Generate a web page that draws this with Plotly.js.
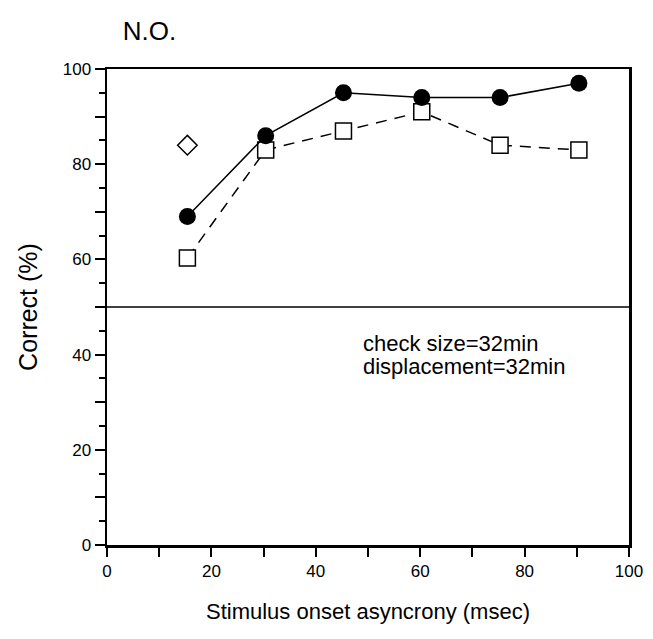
<!DOCTYPE html>
<html><head><meta charset="utf-8">
<script src="https://cdn.plot.ly/plotly-3.0.1.min.js"></script>
<style>body{margin:0;background:#fff}#c{width:653px;height:639px}</style>
</head><body><div id="c"></div>
<script>
const soa = [15.4, 30.4, 45.3, 60.3, 75.3, 90.4];
const filledCircle = [69, 86, 95, 94, 94, 97];
const openSquare = [60.3, 83, 87, 91, 84, 83];
const diamondX = [15.4];
const diamondY = [84];
const xTickVals = [0, 10, 20, 30, 40, 50, 60, 70, 80, 90, 100];
const xTickText = ['0', '', '20', '', '40', '', '60', '', '80', '', '100'];
const yTickVals = [0, 10, 20, 30, 40, 50, 60, 70, 80, 90, 100];
const yTickText = ['0', '', '20', '', '40', '', '60', '', '80', '', '100'];
const chance = 50;
const noteLines = ['check size=32min', 'displacement=32min'];
const noteY = [42.4, 37.4];

const font = 'Liberation Sans, Arial, Helvetica, sans-serif';

const traces = [
  {x: soa, y: openSquare, mode: 'lines', type: 'scatter',
   line: {color: '#000', width: 1.5, dash: '11px,8px'}},
  {x: soa, y: openSquare, mode: 'markers', type: 'scatter',
   marker: {symbol: 'square', size: 16, color: '#fff', line: {width: 1.5, color: '#000'}}},
  {x: soa, y: filledCircle, mode: 'lines+markers', type: 'scatter',
   line: {color: '#000', width: 1.5},
   marker: {symbol: 'circle', size: 17, color: '#000'}},
  {x: diamondX, y: diamondY, mode: 'markers', type: 'scatter',
   marker: {symbol: 'diamond', size: 15, color: '#fff', line: {width: 1.5, color: '#000'}}},
  {x: [0, 100], y: [chance, chance], mode: 'lines', type: 'scatter',
   line: {color: '#000', width: 1.5}, hoverinfo: 'skip'}
];

const layout = {
  width: 653, height: 639,
  margin: {l: 107, r: 24, t: 69, b: 94},
  paper_bgcolor: '#fff', plot_bgcolor: '#fff',
  showlegend: false,
  font: {family: font, color: '#000', size: 17},
  title: {text: 'N.O.', x: 0.188, xanchor: 'left', y: 0.952, yanchor: 'middle',
          font: {family: font, size: 26, color: '#000'}},
  xaxis: {range: [0, 100], tickmode: 'array', tickvals: xTickVals, ticktext: xTickText,
          ticks: 'outside', ticklen: 9, tickwidth: 2, tickcolor: '#000',
          showline: true, linewidth: 2.5, linecolor: '#000', mirror: true,
          showgrid: false, zeroline: false, fixedrange: true,
          tickfont: {size: 17},
          title: {text: 'Stimulus onset asyncrony (msec)', standoff: 24, font: {size: 22}}},
  yaxis: {range: [0, 100], tickmode: 'array', tickvals: yTickVals, ticktext: yTickText,
          ticks: 'outside', ticklen: 10, tickwidth: 2, tickcolor: '#000',
          minor: {dtick: 5, ticks: 'outside', ticklen: 6, tickwidth: 2, tickcolor: '#000'},
          showline: true, linewidth: 2.5, linecolor: '#000', mirror: true,
          showgrid: false, zeroline: false, fixedrange: true,
          tickfont: {size: 17},
          title: {text: 'Correct (%)', standoff: 18, font: {size: 25}}},
  annotations: noteLines.map((t, i) => ({
    text: t, xref: 'x', yref: 'y', x: 48.6, y: noteY[i],
    xanchor: 'left', yanchor: 'middle', align: 'left', showarrow: false,
    font: {family: font, size: 22, color: '#000'}
  }))
};

Plotly.newPlot('c', traces, layout, {displayModeBar: false, staticPlot: true});
</script>
</body></html>
